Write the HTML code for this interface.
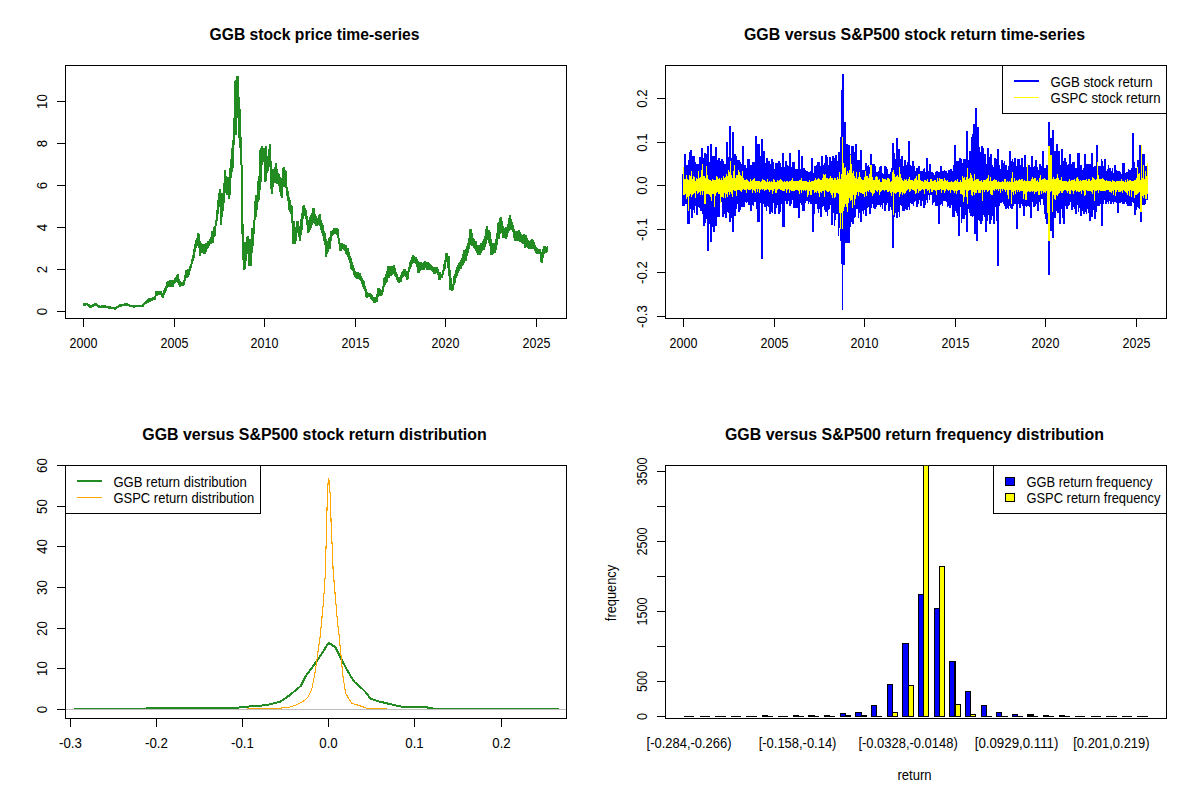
<!DOCTYPE html><html><head><meta charset="utf-8"><style>html,body{margin:0;padding:0;background:#fff;overflow:hidden}svg{display:block}text{font-family:"Liberation Sans",sans-serif;fill:#000}</style></head><body><svg width="1200" height="800" viewBox="0 0 1200 800" font-family="Liberation Sans, sans-serif" shape-rendering="crispEdges"><defs><clipPath id="c1"><rect x="65.3" y="65.3" width="501.2" height="253.5"/></clipPath><clipPath id="c2"><rect x="665.3" y="65.3" width="501.2" height="253.5"/></clipPath><clipPath id="c4"><rect x="665.3" y="465.3" width="501.2" height="253.5"/></clipPath></defs><rect width="1200" height="800" fill="#fff"/><polygon clip-path="url(#c1)" fill="#228B22" points="83,303 84,303 84,303 85,303 85,303 86,303 86,303 87,303 87,303 88,303 88,304 89,304 89,304 90,304 90,305 91,305 91,305 92,305 92,304 93,304 93,304 94,304 94,303 95,303 95,303 96,303 96,303 97,303 97,304 98,304 98,305 99,305 99,305 100,305 100,306 101,306 101,305 102,305 102,305 103,305 103,305 104,305 104,305 105,305 105,305 106,305 106,306 107,306 107,306 108,306 108,306 109,306 109,306 110,306 110,306 111,306 111,307 112,307 112,307 113,307 113,307 114,307 114,307 115,307 115,307 116,307 116,306 117,306 117,306 118,306 118,305 119,305 119,304 120,304 120,304 121,304 121,304 122,304 122,304 123,304 123,304 124,304 124,303 125,303 125,303 126,303 126,303 127,303 127,303 128,303 128,304 129,304 129,304 130,304 130,305 131,305 131,305 132,305 132,305 133,305 133,305 134,305 134,305 135,305 135,305 136,305 136,305 137,305 137,305 138,305 138,305 139,305 139,305 140,305 140,305 141,305 141,305 142,305 142,304 143,304 143,303 144,303 144,302 145,302 145,301 146,301 146,300 147,300 147,299 148,299 148,298 149,298 149,298 150,298 150,298 151,298 151,298 152,298 152,297 153,297 153,297 154,297 154,296 155,296 155,291 156,291 156,291 157,291 157,291 158,291 158,291 159,291 159,291 160,291 160,291 161,291 161,291 162,291 162,293 163,293 163,290 164,290 164,288 165,288 165,286 166,286 166,282 167,282 167,281 168,281 168,281 169,281 169,280 170,280 170,280 171,280 171,280 172,280 172,280 173,280 173,280 174,280 174,278 175,278 175,277 176,277 176,275 177,275 177,274 178,274 178,274 179,274 179,279 180,279 180,281 181,281 181,282 182,282 182,282 183,282 183,280 184,280 184,275 185,275 185,270 186,270 186,270 187,270 187,269 188,269 188,269 189,269 189,266 190,266 190,264 191,264 191,259 192,259 192,255 193,255 193,249 194,249 194,244 195,244 195,240 196,240 196,238 197,238 197,233 198,233 198,233 199,233 199,234 200,234 200,241 201,241 201,243 202,243 202,244 203,244 203,244 204,244 204,244 205,244 205,243 206,243 206,243 207,243 207,241 208,241 208,241 209,241 209,239 210,239 210,237 211,237 211,231 212,231 212,231 213,231 213,227 214,227 214,226 215,226 215,220 216,220 216,210 217,210 217,200 218,200 218,193 219,193 219,189 220,189 220,189 221,189 221,193 222,193 222,193 223,193 223,183 224,183 224,170 225,170 225,170 226,170 226,176 227,176 227,177 228,177 228,177 229,177 229,168 230,168 230,159 231,159 231,148 232,148 232,140 233,140 233,118 234,118 234,81 235,81 235,80 236,80 236,76 237,76 237,76 238,76 238,76 239,76 239,97 240,97 240,109 241,109 241,137 242,137 242,165 243,165 243,224 244,224 244,242 245,242 245,242 246,242 246,237 247,237 247,236 248,236 248,236 249,236 249,239 250,239 250,239 251,239 251,228 252,228 252,228 253,228 253,220 254,220 254,201 255,201 255,195 256,195 256,195 257,195 257,181 258,181 258,176 259,176 259,150 260,150 260,148 261,148 261,146 262,146 262,146 263,146 263,148 264,148 264,148 265,148 265,146 266,146 266,146 267,146 267,156 268,156 268,149 269,149 269,144 270,144 270,144 271,144 271,161 272,161 272,169 273,169 273,169 274,169 274,167 275,167 275,163 276,163 276,163 277,163 277,169 278,169 278,173 279,173 279,174 280,174 280,177 281,177 281,178 282,178 282,168 283,168 283,167 284,167 284,167 285,167 285,170 286,170 286,171 287,171 287,187 288,187 288,191 289,191 289,197 290,197 290,200 291,200 291,205 292,205 292,206 293,206 293,221 294,221 294,221 295,221 295,227 296,227 296,221 297,221 297,221 298,221 298,221 299,221 299,226 300,226 300,219 301,219 301,213 302,213 302,206 303,206 303,205 304,205 304,205 305,205 305,208 306,208 306,210 307,210 307,216 308,216 308,220 309,220 309,217 310,217 310,215 311,215 311,213 312,213 312,208 313,208 313,208 314,208 314,208 315,208 315,214 316,214 316,216 317,216 317,218 318,218 318,215 319,215 319,214 320,214 320,214 321,214 321,220 322,220 322,223 323,223 323,225 324,225 324,231 325,231 325,233 326,233 326,239 327,239 327,241 328,241 328,238 329,238 329,237 330,237 330,231 331,231 331,231 332,231 332,230 333,230 333,228 334,228 334,228 335,228 335,228 336,228 336,228 337,228 337,228 338,228 338,229 339,229 339,238 340,238 340,243 341,243 341,243 342,243 342,243 343,243 343,244 344,244 344,244 345,244 345,245 346,245 346,245 347,245 347,248 348,248 348,248 349,248 349,252 350,252 350,256 351,256 351,258 352,258 352,262 353,262 353,265 354,265 354,268 355,268 355,271 356,271 356,272 357,272 357,272 358,272 358,272 359,272 359,273 360,273 360,273 361,273 361,276 362,276 362,278 363,278 363,280 364,280 364,281 365,281 365,286 366,286 366,289 367,289 367,292 368,292 368,293 369,293 369,293 370,293 370,293 371,293 371,294 372,294 372,295 373,295 373,297 374,297 374,297 375,297 375,297 376,297 376,294 377,294 377,288 378,288 378,288 379,288 379,288 380,288 380,289 381,289 381,290 382,290 382,286 383,286 383,278 384,278 384,277 385,277 385,274 386,274 386,271 387,271 387,266 388,266 388,266 389,266 389,266 390,266 390,266 391,266 391,266 392,266 392,266 393,266 393,265 394,265 394,265 395,265 395,268 396,268 396,272 397,272 397,274 398,274 398,277 399,277 399,277 400,277 400,275 401,275 401,272 402,272 402,271 403,271 403,269 404,269 404,269 405,269 405,269 406,269 406,271 407,271 407,271 408,271 408,267 409,267 409,262 410,262 410,260 411,260 411,257 412,257 412,255 413,255 413,255 414,255 414,256 415,256 415,257 416,257 416,257 417,257 417,259 418,259 418,261 419,261 419,262 420,262 420,262 421,262 421,262 422,262 422,263 423,263 423,262 424,262 424,261 425,261 425,261 426,261 426,262 427,262 427,262 428,262 428,262 429,262 429,263 430,263 430,264 431,264 431,265 432,265 432,266 433,266 433,267 434,267 434,267 435,267 435,267 436,267 436,267 437,267 437,267 438,267 438,269 439,269 439,272 440,272 440,272 441,272 441,274 442,274 442,270 443,270 443,264 444,264 444,260 445,260 445,253 446,253 446,253 447,253 447,253 448,253 448,256 449,256 449,256 450,256 450,270 451,270 451,278 452,278 452,284 453,284 453,276 454,276 454,274 455,274 455,270 456,270 456,267 457,267 457,265 458,265 458,263 459,263 459,262 460,262 460,260 461,260 461,258 462,258 462,254 463,254 463,250 464,250 464,250 465,250 465,249 466,249 466,246 467,246 467,243 468,243 468,238 469,238 469,229 470,229 470,229 471,229 471,229 472,229 472,233 473,233 473,238 474,238 474,239 475,239 475,241 476,241 476,241 477,241 477,245 478,245 478,245 479,245 479,245 480,245 480,243 481,243 481,243 482,243 482,241 483,241 483,239 484,239 484,236 485,236 485,229 486,229 486,226 487,226 487,226 488,226 488,230 489,230 489,230 490,230 490,232 491,232 491,239 492,239 492,243 493,243 493,243 494,243 494,243 495,243 495,239 496,239 496,233 497,233 497,223 498,223 498,222 499,222 499,218 500,218 500,217 501,217 501,217 502,217 502,221 503,221 503,226 504,226 504,228 505,228 505,227 506,227 506,227 507,227 507,224 508,224 508,218 509,218 509,215 510,215 510,215 511,215 511,219 512,219 512,222 513,222 513,225 514,225 514,229 515,229 515,231 516,231 516,231 517,231 517,231 518,231 518,230 519,230 519,230 520,230 520,232 521,232 521,234 522,234 522,235 523,235 523,234 524,234 524,234 525,234 525,235 526,235 526,235 527,235 527,238 528,238 528,240 529,240 529,241 530,241 530,240 531,240 531,239 532,239 532,239 533,239 533,240 534,240 534,242 535,242 535,245 536,245 536,247 537,247 537,248 538,248 538,249 539,249 539,249 540,249 540,249 541,249 541,252 542,252 542,249 543,249 543,246 544,246 544,246 545,246 545,246 546,246 546,247 547,247 547,246 548,246 548,252 547,252 547,253 546,253 546,253 545,253 545,254 544,254 544,258 543,258 543,263 542,263 542,263 541,263 541,262 540,262 540,254 539,254 539,254 538,254 538,254 537,254 537,254 536,254 536,253 535,253 535,251 534,251 534,249 533,249 533,249 532,249 532,249 531,249 531,249 530,249 530,249 529,249 529,249 528,249 528,248 527,248 527,247 526,247 526,248 525,248 525,248 524,248 524,244 523,244 523,244 522,244 522,243 521,243 521,242 520,242 520,242 519,242 519,241 518,241 518,241 517,241 517,241 516,241 516,241 515,241 515,241 514,241 514,238 513,238 513,232 512,232 512,230 511,230 511,230 510,230 510,231 509,231 509,233 508,233 508,237 507,237 507,239 506,239 506,239 505,239 505,238 504,238 504,238 503,238 503,238 502,238 502,233 501,233 501,234 500,234 500,239 499,239 499,239 498,239 498,245 497,245 497,250 496,250 496,253 495,253 495,253 494,253 494,254 493,254 493,255 492,255 492,255 491,255 491,255 490,255 490,246 489,246 489,243 488,243 488,240 487,240 487,244 486,244 486,247 485,247 485,250 484,250 484,250 483,250 483,251 482,251 482,253 481,253 481,255 480,255 480,255 479,255 479,255 478,255 478,255 477,255 477,253 476,253 476,251 475,251 475,249 474,249 474,248 473,248 473,246 472,246 472,246 471,246 471,245 470,245 470,249 469,249 469,253 468,253 468,256 467,256 467,261 466,261 466,261 465,261 465,263 464,263 464,265 463,265 463,266 462,266 462,269 461,269 461,269 460,269 460,271 459,271 459,273 458,273 458,276 457,276 457,278 456,278 456,283 455,283 455,285 454,285 454,290 453,290 453,291 452,291 452,291 451,291 451,290 450,290 450,290 449,290 449,276 448,276 448,268 447,268 447,262 446,262 446,269 445,269 445,271 444,271 444,275 443,275 443,278 442,278 442,278 441,278 441,280 440,280 440,280 439,280 439,280 438,280 438,275 437,275 437,273 436,273 436,274 435,274 435,274 434,274 434,274 433,274 433,272 432,272 432,271 431,271 431,270 430,270 430,270 429,270 429,270 428,270 428,270 427,270 427,270 426,270 426,268 425,268 425,270 424,270 424,270 423,270 423,270 422,270 422,270 421,270 421,271 420,271 420,273 419,273 419,273 418,273 418,273 417,273 417,267 416,267 416,264 415,264 415,263 414,263 414,263 413,263 413,264 412,264 412,267 411,267 411,269 410,269 410,272 409,272 409,279 408,279 408,280 407,280 407,280 406,280 406,277 405,277 405,276 404,276 404,277 403,277 403,278 402,278 402,282 401,282 401,282 400,282 400,283 399,283 399,283 398,283 398,282 397,282 397,280 396,280 396,277 395,277 395,276 394,276 394,274 393,274 393,275 392,275 392,276 391,276 391,276 390,276 390,278 389,278 389,278 388,278 388,282 387,282 387,283 386,283 386,285 385,285 385,287 384,287 384,292 383,292 383,295 382,295 382,296 381,296 381,296 380,296 380,296 379,296 379,297 378,297 378,302 377,302 377,302 376,302 376,303 375,303 375,303 374,303 374,303 373,303 373,301 372,301 372,300 371,300 371,299 370,299 370,297 369,297 369,297 368,297 368,298 367,298 367,298 366,298 366,297 365,297 365,291 364,291 364,289 363,289 363,287 362,287 362,284 361,284 361,281 360,281 360,280 359,280 359,279 358,279 358,279 357,279 357,279 356,279 356,278 355,278 355,277 354,277 354,275 353,275 353,271 352,271 352,270 351,270 351,269 350,269 350,263 349,263 349,260 348,260 348,257 347,257 347,255 346,255 346,254 345,254 345,251 344,251 344,250 343,250 343,249 342,249 342,251 341,251 341,251 340,251 340,251 339,251 339,244 338,244 338,238 337,238 337,235 336,235 336,234 335,234 335,234 334,234 334,235 333,235 333,236 332,236 332,241 331,241 331,249 330,249 330,249 329,249 329,252 328,252 328,254 327,254 327,257 326,257 326,257 325,257 325,245 324,245 324,241 323,241 323,236 322,236 322,233 321,233 321,230 320,230 320,226 319,226 319,225 318,225 318,226 317,226 317,226 316,226 316,226 315,226 315,224 314,224 314,223 313,223 313,225 312,225 312,228 311,228 311,230 310,230 310,232 309,232 309,233 308,233 308,233 307,233 307,225 306,225 306,219 305,219 305,216 304,216 304,219 303,219 303,230 302,230 302,235 301,235 301,241 300,241 300,241 299,241 299,237 298,237 298,233 297,233 297,241 296,241 296,244 295,244 295,244 294,244 294,244 293,244 293,244 292,244 292,223 291,223 291,214 290,214 290,212 289,212 289,210 288,210 288,201 287,201 287,196 286,196 286,188 285,188 285,187 284,187 284,187 283,187 283,198 282,198 282,198 281,198 281,196 280,196 280,192 279,192 279,186 278,186 278,184 277,184 277,184 276,184 276,183 275,183 275,183 274,183 274,187 273,187 273,194 272,194 272,194 271,194 271,189 270,189 270,167 269,167 269,171 268,171 268,173 267,173 267,181 266,181 266,182 265,182 265,182 264,182 264,162 263,162 263,165 262,165 262,182 261,182 261,190 260,190 260,200 259,200 259,202 258,202 258,210 257,210 257,217 256,217 256,220 255,220 255,234 254,234 254,246 253,246 253,253 252,253 252,266 251,266 251,266 250,266 250,266 249,266 249,266 248,266 248,254 247,254 247,261 246,261 246,269 245,269 245,270 244,270 244,270 243,270 243,260 242,260 242,234 241,234 241,165 240,165 240,148 239,148 239,138 238,138 238,118 237,118 237,135 236,135 236,135 235,135 235,145 234,145 234,168 233,168 233,172 232,172 232,178 231,178 231,195 230,195 230,199 229,199 229,199 228,199 228,195 227,195 227,195 226,195 226,193 225,193 225,203 224,203 224,211 223,211 223,217 222,217 222,225 221,225 221,225 220,225 220,207 219,207 219,214 218,214 218,221 217,221 217,226 216,226 216,236 215,236 215,237 214,237 214,243 213,243 213,243 212,243 212,244 211,244 211,244 210,244 210,246 209,246 209,248 208,248 208,249 207,249 207,252 206,252 206,254 205,254 205,254 204,254 204,254 203,254 203,253 202,253 202,253 201,253 201,256 200,256 200,256 199,256 199,248 198,248 198,246 197,246 197,248 196,248 196,252 195,252 195,258 194,258 194,261 193,261 193,264 192,264 192,268 191,268 191,271 190,271 190,275 189,275 189,277 188,277 188,278 187,278 187,278 186,278 186,281 185,281 185,285 184,285 184,286 183,286 183,286 182,286 182,286 181,286 181,287 180,287 180,287 179,287 179,285 178,285 178,283 177,283 177,282 176,282 176,283 175,283 175,284 174,284 174,287 173,287 173,287 172,287 172,287 171,287 171,287 170,287 170,287 169,287 169,287 168,287 168,288 167,288 167,291 166,291 166,293 165,293 165,295 164,295 164,298 163,298 163,298 162,298 162,297 161,297 161,295 160,295 160,295 159,295 159,295 158,295 158,296 157,296 157,296 156,296 156,300 155,300 155,300 154,300 154,300 153,300 153,301 152,301 152,301 151,301 151,302 150,302 150,302 149,302 149,303 148,303 148,303 147,303 147,304 146,304 146,304 145,304 145,305 144,305 144,307 143,307 143,307 142,307 142,307 141,307 141,307 140,307 140,307 139,307 139,307 138,307 138,307 137,307 137,307 136,307 136,307 135,307 135,308 134,308 134,308 133,308 133,307 132,307 132,307 131,307 131,307 130,307 130,307 129,307 129,306 128,306 128,306 127,306 127,306 126,306 126,306 125,306 125,306 124,306 124,306 123,306 123,306 122,306 122,307 121,307 121,307 120,307 120,307 119,307 119,308 118,308 118,308 117,308 117,309 116,309 116,310 115,310 115,310 114,310 114,309 113,309 113,309 112,309 112,309 111,309 111,309 110,309 110,309 109,309 109,309 108,309 108,308 107,308 107,308 106,308 106,308 105,308 105,308 104,308 104,308 103,308 103,308 102,308 102,308 101,308 101,308 100,308 100,308 99,308 99,308 98,308 98,307 97,307 97,306 96,306 96,306 95,306 95,306 94,306 94,307 93,307 93,307 92,307 92,308 91,308 91,308 90,308 90,308 89,308 89,307 88,307 88,306 87,306 87,305 86,305 86,306 85,306 85,306 84,306 84,306 83,306"/><polygon clip-path="url(#c2)" fill="#0000FF" points="682,174 683,174 683,167 684,167 684,154 685,154 685,154 686,154 686,165 687,165 687,165 688,165 688,160 689,160 689,152 690,152 690,150 691,150 691,150 692,150 692,156 693,156 693,156 694,156 694,156 695,156 695,162 696,162 696,164 697,164 697,164 698,164 698,164 699,164 699,157 700,157 700,157 701,157 701,148 702,148 702,148 703,148 703,158 704,158 704,153 705,153 705,153 706,153 706,154 707,154 707,146 708,146 708,146 709,146 709,162 710,162 710,144 711,144 711,144 712,144 712,156 713,156 713,156 714,156 714,156 715,156 715,147 716,147 716,147 717,147 717,160 718,160 718,158 719,158 719,158 720,158 720,161 721,161 721,159 722,159 722,159 723,159 723,161 724,161 724,164 725,164 725,164 726,164 726,142 727,142 727,142 728,142 728,157 729,157 729,126 730,126 730,126 731,126 731,158 732,158 732,132 733,132 733,132 734,132 734,154 735,154 735,154 736,154 736,156 737,156 737,160 738,160 738,160 739,160 739,160 740,160 740,162 741,162 741,164 742,164 742,146 743,146 743,146 744,146 744,165 745,165 745,165 746,165 746,168 747,168 747,159 748,159 748,159 749,159 749,159 750,159 750,165 751,165 751,165 752,165 752,162 753,162 753,162 754,162 754,162 755,162 755,136 756,136 756,136 757,136 757,144 758,144 758,144 759,144 759,144 760,144 760,156 761,156 761,139 762,139 762,139 763,139 763,151 764,151 764,151 765,151 765,163 766,163 766,158 767,158 767,158 768,158 768,161 769,161 769,161 770,161 770,164 771,164 771,159 772,159 772,159 773,159 773,162 774,162 774,169 775,169 775,163 776,163 776,163 777,163 777,163 778,163 778,161 779,161 779,161 780,161 780,163 781,163 781,167 782,167 782,153 783,153 783,153 784,153 784,167 785,167 785,161 786,161 786,161 787,161 787,165 788,165 788,166 789,166 789,153 790,153 790,153 791,153 791,167 792,167 792,162 793,162 793,162 794,162 794,162 795,162 795,169 796,169 796,169 797,169 797,169 798,169 798,150 799,150 799,150 800,150 800,169 801,169 801,156 802,156 802,156 803,156 803,168 804,168 804,168 805,168 805,170 806,170 806,171 807,171 807,171 808,171 808,172 809,172 809,172 810,172 810,171 811,171 811,158 812,158 812,158 813,158 813,173 814,173 814,166 815,166 815,166 816,166 816,165 817,165 817,162 818,162 818,162 819,162 819,162 820,162 820,166 821,166 821,156 822,156 822,156 823,156 823,165 824,165 824,163 825,163 825,155 826,155 826,155 827,155 827,157 828,157 828,165 829,165 829,157 830,157 830,157 831,157 831,161 832,161 832,156 833,156 833,156 834,156 834,158 835,158 835,155 836,155 836,155 837,155 837,161 838,161 838,152 839,152 839,152 840,152 840,137 841,137 841,90 842,90 842,74 843,74 843,74 844,74 844,122 845,122 845,122 846,122 846,144 847,144 847,144 848,144 848,145 849,145 849,145 850,145 850,154 851,154 851,146 852,146 852,146 853,146 853,146 854,146 854,152 855,152 855,144 856,144 856,144 857,144 857,160 858,160 858,160 859,160 859,160 860,160 860,150 861,150 861,150 862,150 862,170 863,170 863,170 864,170 864,170 865,170 865,163 866,163 866,163 867,163 867,166 868,166 868,165 869,165 869,167 870,167 870,154 871,154 871,154 872,154 872,164 873,164 873,164 874,164 874,164 875,164 875,166 876,166 876,172 877,172 877,172 878,172 878,171 879,171 879,167 880,167 880,166 881,166 881,166 882,166 882,173 883,173 883,174 884,174 884,166 885,166 885,166 886,166 886,167 887,167 887,169 888,169 888,174 889,174 889,174 890,174 890,172 891,172 891,168 892,168 892,143 893,143 893,143 894,143 894,153 895,153 895,159 896,159 896,138 897,138 897,138 898,138 898,149 899,149 899,149 900,149 900,159 901,159 901,156 902,156 902,156 903,156 903,166 904,166 904,160 905,160 905,160 906,160 906,165 907,165 907,162 908,162 908,141 909,141 909,141 910,141 910,165 911,165 911,166 912,166 912,161 913,161 913,161 914,161 914,166 915,166 915,171 916,171 916,168 917,168 917,168 918,168 918,166 919,166 919,166 920,166 920,171 921,171 921,171 922,171 922,171 923,171 923,169 924,169 924,168 925,168 925,172 926,172 926,158 927,158 927,158 928,158 928,171 929,171 929,164 930,164 930,164 931,164 931,172 932,172 932,172 933,172 933,173 934,173 934,175 935,175 935,172 936,172 936,171 937,171 937,171 938,171 938,172 939,172 939,172 940,172 940,166 941,166 941,166 942,166 942,171 943,171 943,171 944,171 944,170 945,170 945,171 946,171 946,171 947,171 947,173 948,173 948,170 949,170 949,170 950,170 950,169 951,169 951,169 952,169 952,171 953,171 953,165 954,165 954,145 955,145 955,145 956,145 956,161 957,161 957,161 958,161 958,161 959,161 959,158 960,158 960,158 961,158 961,159 962,159 962,163 963,163 963,159 964,159 964,159 965,159 965,159 966,159 966,131 967,131 967,131 968,131 968,160 969,160 969,151 970,151 970,151 971,151 971,137 972,137 972,134 973,134 973,124 974,124 974,124 975,124 975,108 976,108 976,108 977,108 977,127 978,127 978,127 979,127 979,147 980,147 980,152 981,152 981,146 982,146 982,146 983,146 983,148 984,148 984,154 985,154 985,154 986,154 986,164 987,164 987,148 988,148 988,148 989,148 989,157 990,157 990,154 991,154 991,154 992,154 992,165 993,165 993,167 994,167 994,158 995,158 995,158 996,158 996,159 997,159 997,149 998,149 998,149 999,149 999,165 1000,165 1000,169 1001,169 1001,160 1002,160 1002,160 1003,160 1003,163 1004,163 1004,161 1005,161 1005,165 1006,165 1006,165 1007,165 1007,170 1008,170 1008,166 1009,166 1009,151 1010,151 1010,151 1011,151 1011,161 1012,161 1012,159 1013,159 1013,162 1014,162 1014,158 1015,158 1015,158 1016,158 1016,166 1017,166 1017,159 1018,159 1018,159 1019,159 1019,159 1020,159 1020,165 1021,165 1021,158 1022,158 1022,158 1023,158 1023,167 1024,167 1024,155 1025,155 1025,155 1026,155 1026,167 1027,167 1027,165 1028,165 1028,165 1029,165 1029,165 1030,165 1030,167 1031,167 1031,156 1032,156 1032,156 1033,156 1033,167 1034,167 1034,166 1035,166 1035,160 1036,160 1036,160 1037,160 1037,167 1038,167 1038,170 1039,170 1039,164 1040,164 1040,164 1041,164 1041,166 1042,166 1042,151 1043,151 1043,151 1044,151 1044,168 1045,168 1045,168 1046,168 1046,165 1047,165 1047,165 1048,165 1048,122 1049,122 1049,122 1050,122 1050,138 1051,138 1051,138 1052,138 1052,130 1053,130 1053,130 1054,130 1054,151 1055,151 1055,151 1056,151 1056,144 1057,144 1057,144 1058,144 1058,151 1059,151 1059,151 1060,151 1060,165 1061,165 1061,149 1062,149 1062,149 1063,149 1063,161 1064,161 1064,158 1065,158 1065,158 1066,158 1066,162 1067,162 1067,165 1068,165 1068,164 1069,164 1069,154 1070,154 1070,154 1071,154 1071,164 1072,164 1072,162 1073,162 1073,162 1074,162 1074,162 1075,162 1075,168 1076,168 1076,168 1077,168 1077,153 1078,153 1078,153 1079,153 1079,153 1080,153 1080,165 1081,165 1081,165 1082,165 1082,170 1083,170 1083,168 1084,168 1084,154 1085,154 1085,154 1086,154 1086,164 1087,164 1087,164 1088,164 1088,164 1089,164 1089,164 1090,164 1090,164 1091,164 1091,153 1092,153 1092,153 1093,153 1093,167 1094,167 1094,166 1095,166 1095,166 1096,166 1096,145 1097,145 1097,145 1098,145 1098,166 1099,166 1099,166 1100,166 1100,166 1101,166 1101,159 1102,159 1102,161 1103,161 1103,166 1104,166 1104,159 1105,159 1105,159 1106,159 1106,171 1107,171 1107,169 1108,169 1108,165 1109,165 1109,168 1110,168 1110,168 1111,168 1111,171 1112,171 1112,168 1113,168 1113,173 1114,173 1114,165 1115,165 1115,165 1116,165 1116,170 1117,170 1117,171 1118,171 1118,171 1119,171 1119,171 1120,171 1120,172 1121,172 1121,174 1122,174 1122,163 1123,163 1123,163 1124,163 1124,163 1125,163 1125,173 1126,173 1126,172 1127,172 1127,172 1128,172 1128,169 1129,169 1129,170 1130,170 1130,170 1131,170 1131,168 1132,168 1132,133 1133,133 1133,133 1134,133 1134,162 1135,162 1135,168 1136,168 1136,168 1137,168 1137,160 1138,160 1138,160 1139,160 1139,145 1140,145 1140,145 1141,145 1141,169 1142,169 1142,154 1143,154 1143,154 1144,154 1144,154 1145,154 1145,166 1146,166 1146,166 1147,166 1147,172 1148,172 1148,200 1147,200 1147,200 1146,200 1146,204 1145,204 1145,205 1144,205 1144,205 1143,205 1143,205 1142,205 1142,222 1141,222 1141,222 1140,222 1140,209 1139,209 1139,208 1138,208 1138,207 1137,207 1137,210 1136,210 1136,215 1135,215 1135,215 1134,215 1134,203 1133,203 1133,202 1132,202 1132,206 1131,206 1131,206 1130,206 1130,206 1129,206 1129,206 1128,206 1128,206 1127,206 1127,204 1126,204 1126,202 1125,202 1125,204 1124,204 1124,204 1123,204 1123,204 1122,204 1122,202 1121,202 1121,203 1120,203 1120,203 1119,203 1119,213 1118,213 1118,213 1117,213 1117,203 1116,203 1116,202 1115,202 1115,202 1114,202 1114,204 1113,204 1113,202 1112,202 1112,204 1111,204 1111,204 1110,204 1110,201 1109,201 1109,204 1108,204 1108,202 1107,202 1107,204 1106,204 1106,204 1105,204 1105,200 1104,200 1104,204 1103,204 1103,226 1102,226 1102,226 1101,226 1101,204 1100,204 1100,206 1099,206 1099,206 1098,206 1098,206 1097,206 1097,212 1096,212 1096,219 1095,219 1095,219 1094,219 1094,210 1093,210 1093,217 1092,217 1092,217 1091,217 1091,221 1090,221 1090,221 1089,221 1089,213 1088,213 1088,209 1087,209 1087,214 1086,214 1086,212 1085,212 1085,214 1084,214 1084,214 1083,214 1083,211 1082,211 1082,216 1081,216 1081,216 1080,216 1080,208 1079,208 1079,212 1078,212 1078,205 1077,205 1077,214 1076,214 1076,214 1075,214 1075,209 1074,209 1074,207 1073,207 1073,210 1072,210 1072,210 1071,210 1071,202 1070,202 1070,205 1069,205 1069,206 1068,206 1068,209 1067,209 1067,209 1066,209 1066,206 1065,206 1065,224 1064,224 1064,224 1063,224 1063,218 1062,218 1062,209 1061,209 1061,224 1060,224 1060,224 1059,224 1059,213 1058,213 1058,213 1057,213 1057,211 1056,211 1056,218 1055,218 1055,218 1054,218 1054,238 1053,238 1053,238 1052,238 1052,231 1051,231 1051,231 1050,231 1050,275 1049,275 1049,275 1048,275 1048,224 1047,224 1047,224 1046,224 1046,219 1045,219 1045,214 1044,214 1044,205 1043,205 1043,199 1042,199 1042,199 1041,199 1041,205 1040,205 1040,202 1039,202 1039,211 1038,211 1038,211 1037,211 1037,204 1036,204 1036,206 1035,206 1035,207 1034,207 1034,207 1033,207 1033,202 1032,202 1032,218 1031,218 1031,218 1030,218 1030,207 1029,207 1029,206 1028,206 1028,206 1027,206 1027,207 1026,207 1026,206 1025,206 1025,216 1024,216 1024,216 1023,216 1023,206 1022,206 1022,204 1021,204 1021,208 1020,208 1020,208 1019,208 1019,204 1018,204 1018,229 1017,229 1017,229 1016,229 1016,204 1015,204 1015,204 1014,204 1014,206 1013,206 1013,209 1012,209 1012,209 1011,209 1011,208 1010,208 1010,206 1009,206 1009,209 1008,209 1008,208 1007,208 1007,209 1006,209 1006,209 1005,209 1005,206 1004,206 1004,204 1003,204 1003,202 1002,202 1002,203 1001,203 1001,203 1000,203 1000,206 999,206 999,266 998,266 998,266 997,266 997,221 996,221 996,207 995,207 995,224 994,224 994,224 993,224 993,216 992,216 992,220 991,220 991,224 990,224 990,224 989,224 989,215 988,215 988,221 987,221 987,232 986,232 986,232 985,232 985,217 984,217 984,215 983,215 983,221 982,221 982,224 981,224 981,224 980,224 980,221 979,221 979,220 978,220 978,241 977,241 977,241 976,241 976,234 975,234 975,234 974,234 974,216 973,216 973,217 972,217 972,216 971,216 971,216 970,216 970,213 969,213 969,209 968,209 968,232 967,232 967,232 966,232 966,215 965,215 965,219 964,219 964,219 963,219 963,219 962,219 962,223 961,223 961,207 960,207 960,236 959,236 959,236 958,236 958,216 957,216 957,213 956,213 956,211 955,211 955,217 954,217 954,217 953,217 953,217 952,217 952,205 951,205 951,208 950,208 950,208 949,208 949,206 948,206 948,207 947,207 947,202 946,202 946,201 945,201 945,201 944,201 944,201 943,201 943,206 942,206 942,204 941,204 941,205 940,205 940,224 939,224 939,224 938,224 938,206 937,206 937,206 936,206 936,206 935,206 935,202 934,202 934,203 933,203 933,205 932,205 932,195 931,195 931,195 930,195 930,200 929,200 929,195 928,195 928,203 927,203 927,200 926,200 926,205 925,205 925,208 924,208 924,208 923,208 923,201 922,201 922,206 921,206 921,206 920,206 920,200 919,200 919,204 918,204 918,207 917,207 917,207 916,207 916,201 915,201 915,202 914,202 914,206 913,206 913,204 912,204 912,204 911,204 911,203 910,203 910,210 909,210 909,207 908,207 908,210 907,210 907,210 906,210 906,209 905,209 905,211 904,211 904,211 903,211 903,211 902,211 902,206 901,206 901,205 900,205 900,217 899,217 899,212 898,212 898,218 897,218 897,218 896,218 896,213 895,213 895,217 894,217 894,248 893,248 893,248 892,248 892,210 891,210 891,207 890,207 890,211 889,211 889,211 888,211 888,203 887,203 887,205 886,205 886,211 885,211 885,211 884,211 884,203 883,203 883,209 882,209 882,205 881,205 881,207 880,207 880,205 879,205 879,205 878,205 878,205 877,205 877,207 876,207 876,209 875,209 875,209 874,209 874,208 873,208 873,204 872,204 872,208 871,208 871,214 870,214 870,214 869,214 869,207 868,207 868,208 867,208 867,216 866,216 866,216 865,216 865,210 864,210 864,214 863,214 863,211 862,211 862,222 861,222 861,222 860,222 860,213 859,213 859,218 858,218 858,209 857,209 857,209 856,209 856,217 855,217 855,218 854,218 854,224 853,224 853,224 852,224 852,222 851,222 851,227 850,227 850,243 849,243 849,243 848,243 848,243 847,243 847,243 846,243 846,243 845,243 845,265 844,265 844,265 843,265 843,310 842,310 842,264 841,264 841,241 840,241 840,228 839,228 839,236 838,236 838,214 837,214 837,214 836,214 836,220 835,220 835,226 834,226 834,213 833,213 833,225 832,225 832,225 831,225 831,205 830,205 830,209 829,209 829,210 828,210 828,216 827,216 827,212 826,212 826,212 825,212 825,210 824,210 824,206 823,206 823,207 822,207 822,217 821,217 821,217 820,217 820,209 819,209 819,213 818,213 818,209 817,209 817,204 816,204 816,204 815,204 815,214 814,214 814,232 813,232 813,232 812,232 812,204 811,204 811,204 810,204 810,202 809,202 809,204 808,204 808,201 807,201 807,201 806,201 806,203 805,203 805,211 804,211 804,211 803,211 803,211 802,211 802,205 801,205 801,203 800,203 800,218 799,218 799,218 798,218 798,208 797,208 797,208 796,208 796,208 795,208 795,208 794,208 794,208 793,208 793,200 792,200 792,204 791,204 791,206 790,206 790,206 789,206 789,201 788,201 788,204 787,204 787,204 786,204 786,201 785,201 785,227 784,227 784,227 783,227 783,227 782,227 782,204 781,204 781,212 780,212 780,214 779,214 779,214 778,214 778,205 777,205 777,208 776,208 776,214 775,214 775,214 774,214 774,203 773,203 773,213 772,213 772,212 771,212 771,214 770,214 770,214 769,214 769,207 768,207 768,206 767,206 767,211 766,211 766,207 765,207 765,207 764,207 764,204 763,204 763,259 762,259 762,259 761,259 761,203 760,203 760,222 759,222 759,222 758,222 758,222 757,222 757,209 756,209 756,202 755,202 755,202 754,202 754,206 753,206 753,205 752,205 752,211 751,211 751,211 750,211 750,205 749,205 749,205 748,205 748,202 747,202 747,203 746,203 746,202 745,202 745,207 744,207 744,207 743,207 743,207 742,207 742,207 741,207 741,210 740,210 740,212 739,212 739,212 738,212 738,204 737,204 737,209 736,209 736,216 735,216 735,216 734,216 734,232 733,232 733,232 732,232 732,218 731,218 731,222 730,222 730,222 729,222 729,213 728,213 728,212 727,212 727,218 726,218 726,218 725,218 725,214 724,214 724,217 723,217 723,217 722,217 722,202 721,202 721,202 720,202 720,217 719,217 719,217 718,217 718,217 717,217 717,226 716,226 716,226 715,226 715,232 714,232 714,232 713,232 713,227 712,227 712,242 711,242 711,242 710,242 710,224 709,224 709,251 708,251 708,251 707,251 707,219 706,219 706,223 705,223 705,226 704,226 704,226 703,226 703,214 702,214 702,211 701,211 701,211 700,211 700,208 699,208 699,207 698,207 698,215 697,215 697,215 696,215 696,206 695,206 695,213 694,213 694,210 693,210 693,218 692,218 692,218 691,218 691,209 690,209 690,224 689,224 689,224 688,224 688,224 687,224 687,204 686,204 686,204 685,204 685,206 684,206 684,206 683,206 683,206 682,206"/><polygon clip-path="url(#c2)" fill="#FFFF00" points="683,167 684,167 684,179 685,179 685,179 686,179 686,175 687,175 687,179 688,179 688,180 689,180 689,175 690,175 690,176 691,176 691,171 692,171 692,179 693,179 693,176 694,176 694,177 695,177 695,181 696,181 696,178 697,178 697,179 698,179 698,171 699,171 699,178 700,178 700,177 701,177 701,170 702,170 702,164 703,164 703,176 704,176 704,176 705,176 705,178 706,178 706,166 707,166 707,175 708,175 708,179 709,179 709,180 710,180 710,180 711,180 711,181 712,181 712,179 713,179 713,180 714,180 714,180 715,180 715,180 716,180 716,176 717,176 717,177 718,177 718,179 719,179 719,178 720,178 720,180 721,180 721,178 722,178 722,180 723,180 723,176 724,176 724,178 725,178 725,177 726,177 726,174 727,174 727,176 728,176 728,170 729,170 729,172 730,172 730,161 731,161 731,175 732,175 732,178 733,178 733,171 734,171 734,165 735,165 735,178 736,178 736,175 737,175 737,175 738,175 738,170 739,170 739,172 740,172 740,175 741,175 741,176 742,176 742,171 743,171 743,178 744,178 744,180 745,180 745,180 746,180 746,179 747,179 747,180 748,180 748,181 749,181 749,182 750,182 750,179 751,179 751,181 752,181 752,180 753,180 753,179 754,179 754,178 755,178 755,181 756,181 756,181 757,181 757,181 758,181 758,181 759,181 759,181 760,181 760,182 761,182 761,181 762,181 762,179 763,179 763,180 764,180 764,180 765,180 765,181 766,181 766,182 767,182 767,179 768,179 768,182 769,182 769,181 770,181 770,182 771,182 771,181 772,181 772,182 773,182 773,179 774,179 774,180 775,180 775,182 776,182 776,182 777,182 777,180 778,180 778,181 779,181 779,180 780,180 780,179 781,179 781,180 782,180 782,181 783,181 783,182 784,182 784,181 785,181 785,182 786,182 786,181 787,181 787,181 788,181 788,182 789,182 789,181 790,181 790,181 791,181 791,180 792,180 792,178 793,178 793,181 794,181 794,181 795,181 795,181 796,181 796,181 797,181 797,181 798,181 798,181 799,181 799,180 800,180 800,180 801,180 801,178 802,178 802,181 803,181 803,181 804,181 804,181 805,181 805,181 806,181 806,181 807,181 807,182 808,182 808,182 809,182 809,180 810,180 810,182 811,182 811,181 812,181 812,181 813,181 813,181 814,181 814,180 815,180 815,178 816,178 816,180 817,180 817,179 818,179 818,178 819,178 819,179 820,179 820,180 821,180 821,180 822,180 822,178 823,178 823,174 824,174 824,175 825,175 825,174 826,174 826,178 827,178 827,178 828,178 828,179 829,179 829,178 830,178 830,176 831,176 831,178 832,178 832,178 833,178 833,180 834,180 834,178 835,178 835,178 836,178 836,180 837,180 837,177 838,177 838,179 839,179 839,172 840,172 840,179 841,179 841,174 842,174 842,137 843,137 843,163 844,163 844,168 845,168 845,167 846,167 846,175 847,175 847,171 848,171 848,173 849,173 849,170 850,170 850,155 851,155 851,164 852,164 852,173 853,173 853,171 854,171 854,176 855,176 855,178 856,178 856,172 857,172 857,179 858,179 858,177 859,177 859,172 860,172 860,177 861,177 861,179 862,179 862,180 863,180 863,180 864,180 864,177 865,177 865,171 866,171 866,176 867,176 867,176 868,176 868,178 869,178 869,174 870,174 870,165 871,165 871,165 872,165 872,177 873,177 873,180 874,180 874,180 875,180 875,177 876,177 876,176 877,176 877,177 878,177 878,180 879,180 879,179 880,179 880,182 881,182 881,182 882,182 882,178 883,178 883,179 884,179 884,179 885,179 885,179 886,179 886,180 887,180 887,178 888,178 888,178 889,178 889,179 890,179 890,182 891,182 891,181 892,181 892,172 893,172 893,170 894,170 894,174 895,174 895,177 896,177 896,176 897,176 897,175 898,175 898,177 899,177 899,167 900,167 900,174 901,174 901,178 902,178 902,180 903,180 903,181 904,181 904,179 905,179 905,180 906,180 906,179 907,179 907,181 908,181 908,179 909,179 909,177 910,177 910,180 911,180 911,180 912,180 912,180 913,180 913,181 914,181 914,179 915,179 915,178 916,178 916,176 917,176 917,180 918,180 918,174 919,174 919,174 920,174 920,180 921,180 921,181 922,181 922,181 923,181 923,182 924,182 924,180 925,180 925,180 926,180 926,181 927,181 927,179 928,179 928,182 929,182 929,182 930,182 930,179 931,179 931,179 932,179 932,181 933,181 933,181 934,181 934,180 935,180 935,180 936,180 936,182 937,182 937,178 938,178 938,181 939,181 939,178 940,178 940,179 941,179 941,179 942,179 942,179 943,179 943,181 944,181 944,178 945,178 945,180 946,180 946,181 947,181 947,180 948,180 948,182 949,182 949,182 950,182 950,182 951,182 951,181 952,181 952,182 953,182 953,182 954,182 954,181 955,181 955,180 956,180 956,181 957,181 957,179 958,179 958,182 959,182 959,182 960,182 960,180 961,180 961,182 962,182 962,176 963,176 963,178 964,178 964,177 965,177 965,180 966,180 966,177 967,177 967,168 968,168 968,179 969,179 969,178 970,178 970,173 971,173 971,175 972,175 972,178 973,178 973,181 974,181 974,174 975,174 975,180 976,180 976,179 977,179 977,179 978,179 978,179 979,179 979,181 980,181 980,181 981,181 981,180 982,180 982,182 983,182 983,180 984,180 984,180 985,180 985,180 986,180 986,179 987,179 987,178 988,178 988,175 989,175 989,181 990,181 990,177 991,177 991,181 992,181 992,181 993,181 993,180 994,180 994,179 995,179 995,180 996,180 996,180 997,180 997,182 998,182 998,181 999,181 999,182 1000,182 1000,182 1001,182 1001,182 1002,182 1002,181 1003,181 1003,182 1004,182 1004,179 1005,179 1005,179 1006,179 1006,182 1007,182 1007,181 1008,181 1008,182 1009,182 1009,181 1010,181 1010,182 1011,182 1011,178 1012,178 1012,172 1013,172 1013,182 1014,182 1014,178 1015,178 1015,181 1016,181 1016,180 1017,180 1017,181 1018,181 1018,180 1019,180 1019,179 1020,179 1020,180 1021,180 1021,179 1022,179 1022,179 1023,179 1023,181 1024,181 1024,180 1025,180 1025,181 1026,181 1026,181 1027,181 1027,164 1028,164 1028,181 1029,181 1029,181 1030,181 1030,181 1031,181 1031,179 1032,179 1032,177 1033,177 1033,179 1034,179 1034,178 1035,178 1035,178 1036,178 1036,181 1037,181 1037,180 1038,180 1038,182 1039,182 1039,178 1040,178 1040,175 1041,175 1041,180 1042,180 1042,179 1043,179 1043,179 1044,179 1044,178 1045,178 1045,179 1046,179 1046,180 1047,180 1047,180 1048,180 1048,146 1049,146 1049,146 1050,146 1050,155 1051,155 1051,155 1052,155 1052,179 1053,179 1053,177 1054,177 1054,179 1055,179 1055,179 1056,179 1056,178 1057,178 1057,174 1058,174 1058,178 1059,178 1059,180 1060,180 1060,180 1061,180 1061,177 1062,177 1062,181 1063,181 1063,181 1064,181 1064,181 1065,181 1065,181 1066,181 1066,181 1067,181 1067,182 1068,182 1068,181 1069,181 1069,179 1070,179 1070,181 1071,181 1071,180 1072,180 1072,180 1073,180 1073,180 1074,180 1074,179 1075,179 1075,181 1076,181 1076,178 1077,178 1077,177 1078,177 1078,179 1079,179 1079,181 1080,181 1080,180 1081,180 1081,181 1082,181 1082,180 1083,180 1083,180 1084,180 1084,180 1085,180 1085,180 1086,180 1086,179 1087,179 1087,181 1088,181 1088,179 1089,179 1089,179 1090,179 1090,181 1091,181 1091,180 1092,180 1092,177 1093,177 1093,178 1094,178 1094,179 1095,179 1095,180 1096,180 1096,179 1097,179 1097,162 1098,162 1098,175 1099,175 1099,179 1100,179 1100,179 1101,179 1101,179 1102,179 1102,178 1103,178 1103,179 1104,179 1104,180 1105,180 1105,181 1106,181 1106,180 1107,180 1107,181 1108,181 1108,181 1109,181 1109,181 1110,181 1110,181 1111,181 1111,182 1112,182 1112,180 1113,180 1113,181 1114,181 1114,181 1115,181 1115,182 1116,182 1116,181 1117,181 1117,181 1118,181 1118,181 1119,181 1119,181 1120,181 1120,181 1121,181 1121,179 1122,179 1122,181 1123,181 1123,181 1124,181 1124,182 1125,182 1125,180 1126,180 1126,182 1127,182 1127,179 1128,179 1128,181 1129,181 1129,180 1130,180 1130,180 1131,180 1131,181 1132,181 1132,181 1133,181 1133,181 1134,181 1134,180 1135,180 1135,180 1136,180 1136,178 1137,178 1137,167 1138,167 1138,174 1139,174 1139,173 1140,173 1140,180 1141,180 1141,145 1142,145 1142,178 1143,178 1143,165 1144,165 1144,179 1145,179 1145,171 1146,171 1146,176 1147,176 1147,163 1148,163 1148,194 1147,194 1147,199 1146,199 1146,199 1145,199 1145,195 1144,195 1144,198 1143,198 1143,196 1142,196 1142,212 1141,212 1141,212 1140,212 1140,192 1139,192 1139,193 1138,193 1138,194 1137,194 1137,195 1136,195 1136,195 1135,195 1135,198 1134,198 1134,191 1133,191 1133,191 1132,191 1132,197 1131,197 1131,190 1130,190 1130,196 1129,196 1129,191 1128,191 1128,195 1127,195 1127,193 1126,193 1126,192 1125,192 1125,191 1124,191 1124,190 1123,190 1123,193 1122,193 1122,191 1121,191 1121,192 1120,192 1120,192 1119,192 1119,192 1118,192 1118,190 1117,190 1117,192 1116,192 1116,196 1115,196 1115,190 1114,190 1114,195 1113,195 1113,191 1112,191 1112,193 1111,193 1111,192 1110,192 1110,192 1109,192 1109,190 1108,190 1108,190 1107,190 1107,190 1106,190 1106,191 1105,191 1105,191 1104,191 1104,191 1103,191 1103,191 1102,191 1102,191 1101,191 1101,191 1100,191 1100,190 1099,190 1099,193 1098,193 1098,190 1097,190 1097,191 1096,191 1096,191 1095,191 1095,201 1094,201 1094,190 1093,190 1093,194 1092,194 1092,192 1091,192 1091,191 1090,191 1090,191 1089,191 1089,191 1088,191 1088,191 1087,191 1087,190 1086,190 1086,195 1085,195 1085,196 1084,196 1084,191 1083,191 1083,190 1082,190 1082,194 1081,194 1081,191 1080,191 1080,192 1079,192 1079,192 1078,192 1078,191 1077,191 1077,192 1076,192 1076,190 1075,190 1075,191 1074,191 1074,194 1073,194 1073,191 1072,191 1072,190 1071,190 1071,194 1070,194 1070,194 1069,194 1069,191 1068,191 1068,193 1067,193 1067,191 1066,191 1066,190 1065,190 1065,190 1064,190 1064,191 1063,191 1063,193 1062,193 1062,193 1061,193 1061,191 1060,191 1060,193 1059,193 1059,194 1058,194 1058,196 1057,196 1057,195 1056,195 1056,200 1055,200 1055,199 1054,199 1054,195 1053,195 1053,212 1052,212 1052,191 1051,191 1051,192 1050,192 1050,241 1049,241 1049,241 1048,241 1048,213 1047,213 1047,191 1046,191 1046,193 1045,193 1045,192 1044,192 1044,193 1043,193 1043,191 1042,191 1042,194 1041,194 1041,191 1040,191 1040,195 1039,195 1039,195 1038,195 1038,191 1037,191 1037,192 1036,192 1036,192 1035,192 1035,194 1034,194 1034,191 1033,191 1033,192 1032,192 1032,191 1031,191 1031,192 1030,192 1030,192 1029,192 1029,191 1028,191 1028,192 1027,192 1027,200 1026,200 1026,200 1025,200 1025,194 1024,194 1024,199 1023,199 1023,191 1022,191 1022,191 1021,191 1021,191 1020,191 1020,192 1019,192 1019,190 1018,190 1018,192 1017,192 1017,190 1016,190 1016,194 1015,194 1015,191 1014,191 1014,195 1013,195 1013,192 1012,192 1012,204 1011,204 1011,190 1010,190 1010,190 1009,190 1009,199 1008,199 1008,195 1007,195 1007,190 1006,190 1006,192 1005,192 1005,190 1004,190 1004,189 1003,189 1003,191 1002,191 1002,189 1001,189 1001,193 1000,193 1000,189 999,189 999,191 998,191 998,189 997,189 997,190 996,190 996,189 995,189 995,191 994,191 994,190 993,190 993,195 992,195 992,195 991,195 991,194 990,194 990,190 989,190 989,191 988,191 988,192 987,192 987,190 986,190 986,190 985,190 985,192 984,192 984,190 983,190 983,201 982,201 982,190 981,190 981,193 980,193 980,193 979,193 979,193 978,193 978,190 977,190 977,193 976,193 976,193 975,193 975,195 974,195 974,192 973,192 973,196 972,196 972,195 971,195 971,190 970,190 970,190 969,190 969,191 968,191 968,204 967,204 967,197 966,197 966,190 965,190 965,197 964,197 964,202 963,202 963,195 962,195 962,194 961,194 961,194 960,194 960,190 959,190 959,190 958,190 958,191 957,191 957,194 956,194 956,191 955,191 955,193 954,193 954,191 953,191 953,190 952,190 952,190 951,190 951,193 950,193 950,190 949,190 949,191 948,191 948,190 947,190 947,189 946,189 946,191 945,191 945,193 944,193 944,190 943,190 943,190 942,190 942,193 941,193 941,189 940,189 940,190 939,190 939,190 938,190 938,190 937,190 937,195 936,195 936,191 935,191 935,190 934,190 934,190 933,190 933,192 932,192 932,192 931,192 931,189 930,189 930,193 929,193 929,190 928,190 928,191 927,191 927,189 926,189 926,189 925,189 925,194 924,194 924,190 923,190 923,189 922,189 922,190 921,190 921,191 920,191 920,191 919,191 919,193 918,193 918,189 917,189 917,193 916,193 916,194 915,194 915,191 914,191 914,190 913,190 913,190 912,190 912,189 911,189 911,191 910,191 910,192 909,192 909,189 908,189 908,190 907,190 907,191 906,191 906,193 905,193 905,194 904,194 904,193 903,193 903,195 902,195 902,192 901,192 901,194 900,194 900,197 899,197 899,192 898,192 898,192 897,192 897,193 896,193 896,194 895,194 895,193 894,193 894,215 893,215 893,192 892,192 892,196 891,196 891,193 890,193 890,191 889,191 889,192 888,192 888,192 887,192 887,190 886,190 886,190 885,190 885,191 884,191 884,190 883,190 883,190 882,190 882,191 881,191 881,192 880,192 880,195 879,195 879,190 878,190 878,192 877,192 877,191 876,191 876,190 875,190 875,193 874,193 874,194 873,194 873,196 872,196 872,193 871,193 871,192 870,192 870,190 869,190 869,192 868,192 868,191 867,191 867,196 866,196 866,192 865,192 865,197 864,197 864,194 863,194 863,194 862,194 862,193 861,193 861,193 860,193 860,192 859,192 859,196 858,196 858,192 857,192 857,195 856,195 856,199 855,199 855,205 854,205 854,195 853,195 853,208 852,208 852,200 851,200 851,201 850,201 850,198 849,198 849,203 848,203 848,212 847,212 847,207 846,207 846,204 845,204 845,207 844,207 844,211 843,211 843,229 842,229 842,213 841,213 841,229 840,229 840,213 839,213 839,194 838,194 838,193 837,193 837,193 836,193 836,197 835,197 835,198 834,198 834,193 833,193 833,198 832,198 832,195 831,195 831,193 830,193 830,191 829,191 829,192 828,192 828,192 827,192 827,191 826,191 826,190 825,190 825,197 824,197 824,191 823,191 823,191 822,191 822,193 821,193 821,192 820,192 820,197 819,197 819,193 818,193 818,191 817,191 817,193 816,193 816,192 815,192 815,193 814,193 814,190 813,190 813,190 812,190 812,195 811,195 811,195 810,195 810,191 809,191 809,195 808,195 808,197 807,197 807,190 806,190 806,191 805,191 805,190 804,190 804,191 803,191 803,190 802,190 802,193 801,193 801,190 800,190 800,194 799,194 799,191 798,191 798,190 797,190 797,190 796,190 796,190 795,190 795,191 794,191 794,191 793,191 793,191 792,191 792,191 791,191 791,190 790,190 790,193 789,193 789,189 788,189 788,190 787,190 787,193 786,193 786,189 785,189 785,191 784,191 784,191 783,191 783,191 782,191 782,190 781,190 781,190 780,190 780,189 779,189 779,189 778,189 778,190 777,190 777,193 776,193 776,193 775,193 775,189 774,189 774,191 773,191 773,194 772,194 772,190 771,190 771,190 770,190 770,192 769,192 769,190 768,190 768,189 767,189 767,190 766,190 766,190 765,190 765,191 764,191 764,189 763,189 763,190 762,190 762,189 761,189 761,190 760,190 760,193 759,193 759,189 758,189 758,192 757,192 757,189 756,189 756,193 755,193 755,191 754,191 754,190 753,190 753,193 752,193 752,189 751,189 751,190 750,190 750,190 749,190 749,190 748,190 748,189 747,189 747,193 746,193 746,190 745,190 745,190 744,190 744,189 743,189 743,190 742,190 742,192 741,192 741,191 740,191 740,190 739,190 739,190 738,190 738,190 737,190 737,196 736,196 736,191 735,191 735,191 734,191 734,190 733,190 733,197 732,197 732,194 731,194 731,192 730,192 730,195 729,195 729,192 728,192 728,197 727,197 727,194 726,194 726,198 725,198 725,193 724,193 724,198 723,198 723,197 722,197 722,197 721,197 721,203 720,203 720,194 719,194 719,194 718,194 718,192 717,192 717,193 716,193 716,196 715,196 715,207 714,207 714,194 713,194 713,194 712,194 712,201 711,201 711,197 710,197 710,195 709,195 709,194 708,194 708,194 707,194 707,194 706,194 706,204 705,204 705,204 704,204 704,191 703,191 703,195 702,195 702,191 701,191 701,195 700,195 700,192 699,192 699,193 698,193 698,194 697,194 697,191 696,191 696,198 695,198 695,193 694,193 694,194 693,194 693,195 692,195 692,197 691,197 691,194 690,194 690,196 689,196 689,211 688,211 688,197 687,197 687,199 686,199 686,194 685,194 685,195 684,195 684,195 683,195"/><rect x="65.5" y="65.5" width="501" height="253" fill="none" stroke="#000" stroke-width="1"/>
<rect x="665.5" y="65.5" width="501" height="253" fill="none" stroke="#000" stroke-width="1"/>
<rect x="65.5" y="465.5" width="501" height="253" fill="none" stroke="#000" stroke-width="1"/>
<rect x="665.5" y="465.5" width="501" height="253" fill="none" stroke="#000" stroke-width="1"/>
<text x="314.5" y="39.7" font-size="15.94" text-anchor="middle" font-weight="bold" textLength="209.88" lengthAdjust="spacingAndGlyphs">GGB stock price time-series</text>
<text x="914.5" y="39.7" font-size="15.94" text-anchor="middle" font-weight="bold">GGB versus S&amp;P500 stock return time-series</text>
<text x="314.5" y="439.7" font-size="15.94" text-anchor="middle" font-weight="bold">GGB versus S&amp;P500 stock return distribution</text>
<text x="914.5" y="439.7" font-size="15.94" text-anchor="middle" font-weight="bold">GGB versus S&amp;P500 return frequency distribution</text>
<line x1="83.5" y1="318.5" x2="536.5" y2="318.5" stroke="#000" stroke-width="1"/>
<line x1="83.5" y1="318" x2="83.5" y2="327" stroke="#000" stroke-width="1"/>
<text x="83.5" y="348" font-size="13.9" text-anchor="middle" textLength="27.77" lengthAdjust="spacingAndGlyphs">2000</text>
<line x1="174.5" y1="318" x2="174.5" y2="327" stroke="#000" stroke-width="1"/>
<text x="174.5" y="348" font-size="13.9" text-anchor="middle" textLength="27.77" lengthAdjust="spacingAndGlyphs">2005</text>
<line x1="264.5" y1="318" x2="264.5" y2="327" stroke="#000" stroke-width="1"/>
<text x="264.5" y="348" font-size="13.9" text-anchor="middle" textLength="27.77" lengthAdjust="spacingAndGlyphs">2010</text>
<line x1="355.5" y1="318" x2="355.5" y2="327" stroke="#000" stroke-width="1"/>
<text x="355.5" y="348" font-size="13.9" text-anchor="middle" textLength="27.77" lengthAdjust="spacingAndGlyphs">2015</text>
<line x1="445.5" y1="318" x2="445.5" y2="327" stroke="#000" stroke-width="1"/>
<text x="445.5" y="348" font-size="13.9" text-anchor="middle" textLength="27.77" lengthAdjust="spacingAndGlyphs">2020</text>
<line x1="536.5" y1="318" x2="536.5" y2="327" stroke="#000" stroke-width="1"/>
<text x="536.5" y="348" font-size="13.9" text-anchor="middle" textLength="27.77" lengthAdjust="spacingAndGlyphs">2025</text>
<line x1="683.5" y1="318.5" x2="1136.5" y2="318.5" stroke="#000" stroke-width="1"/>
<line x1="683.5" y1="318" x2="683.5" y2="327" stroke="#000" stroke-width="1"/>
<text x="683.5" y="348" font-size="13.9" text-anchor="middle" textLength="27.77" lengthAdjust="spacingAndGlyphs">2000</text>
<line x1="774.5" y1="318" x2="774.5" y2="327" stroke="#000" stroke-width="1"/>
<text x="774.5" y="348" font-size="13.9" text-anchor="middle" textLength="27.77" lengthAdjust="spacingAndGlyphs">2005</text>
<line x1="864.5" y1="318" x2="864.5" y2="327" stroke="#000" stroke-width="1"/>
<text x="864.5" y="348" font-size="13.9" text-anchor="middle" textLength="27.77" lengthAdjust="spacingAndGlyphs">2010</text>
<line x1="955.5" y1="318" x2="955.5" y2="327" stroke="#000" stroke-width="1"/>
<text x="955.5" y="348" font-size="13.9" text-anchor="middle" textLength="27.77" lengthAdjust="spacingAndGlyphs">2015</text>
<line x1="1045.5" y1="318" x2="1045.5" y2="327" stroke="#000" stroke-width="1"/>
<text x="1045.5" y="348" font-size="13.9" text-anchor="middle" textLength="27.77" lengthAdjust="spacingAndGlyphs">2020</text>
<line x1="1136.5" y1="318" x2="1136.5" y2="327" stroke="#000" stroke-width="1"/>
<text x="1136.5" y="348" font-size="13.9" text-anchor="middle" textLength="27.77" lengthAdjust="spacingAndGlyphs">2025</text>
<line x1="65.5" y1="311.5" x2="65.5" y2="101.5" stroke="#000" stroke-width="1"/>
<line x1="57" y1="311.5" x2="66" y2="311.5" stroke="#000" stroke-width="1"/>
<text x="47" y="311.5" font-size="13.9" text-anchor="middle" textLength="7.39" lengthAdjust="spacingAndGlyphs" transform="rotate(-90 47 311.5)">0</text>
<line x1="57" y1="269.5" x2="66" y2="269.5" stroke="#000" stroke-width="1"/>
<text x="47" y="269.5" font-size="13.9" text-anchor="middle" textLength="7.39" lengthAdjust="spacingAndGlyphs" transform="rotate(-90 47 269.5)">2</text>
<line x1="57" y1="227.5" x2="66" y2="227.5" stroke="#000" stroke-width="1"/>
<text x="47" y="227.5" font-size="13.9" text-anchor="middle" textLength="7.39" lengthAdjust="spacingAndGlyphs" transform="rotate(-90 47 227.5)">4</text>
<line x1="57" y1="185.5" x2="66" y2="185.5" stroke="#000" stroke-width="1"/>
<text x="47" y="185.5" font-size="13.9" text-anchor="middle" textLength="7.39" lengthAdjust="spacingAndGlyphs" transform="rotate(-90 47 185.5)">6</text>
<line x1="57" y1="143.5" x2="66" y2="143.5" stroke="#000" stroke-width="1"/>
<text x="47" y="143.5" font-size="13.9" text-anchor="middle" textLength="7.39" lengthAdjust="spacingAndGlyphs" transform="rotate(-90 47 143.5)">8</text>
<line x1="57" y1="101.5" x2="66" y2="101.5" stroke="#000" stroke-width="1"/>
<text x="47" y="101.5" font-size="13.9" text-anchor="middle" textLength="14.77" lengthAdjust="spacingAndGlyphs" transform="rotate(-90 47 101.5)">10</text>
<line x1="657" y1="316.5" x2="666" y2="316.5" stroke="#000" stroke-width="1"/>
<text x="647" y="316.5" font-size="13.9" text-anchor="middle" textLength="22.88" lengthAdjust="spacingAndGlyphs" transform="rotate(-90 647 316.5)">-0.3</text>
<line x1="657" y1="272.5" x2="666" y2="272.5" stroke="#000" stroke-width="1"/>
<text x="647" y="272.5" font-size="13.9" text-anchor="middle" textLength="22.88" lengthAdjust="spacingAndGlyphs" transform="rotate(-90 647 272.5)">-0.2</text>
<line x1="657" y1="229.5" x2="666" y2="229.5" stroke="#000" stroke-width="1"/>
<text x="647" y="229.5" font-size="13.9" text-anchor="middle" textLength="22.88" lengthAdjust="spacingAndGlyphs" transform="rotate(-90 647 229.5)">-0.1</text>
<line x1="657" y1="185.5" x2="666" y2="185.5" stroke="#000" stroke-width="1"/>
<text x="647" y="185.5" font-size="13.9" text-anchor="middle" textLength="18.46" lengthAdjust="spacingAndGlyphs" transform="rotate(-90 647 185.5)">0.0</text>
<line x1="657" y1="142.5" x2="666" y2="142.5" stroke="#000" stroke-width="1"/>
<text x="647" y="142.5" font-size="13.9" text-anchor="middle" textLength="18.46" lengthAdjust="spacingAndGlyphs" transform="rotate(-90 647 142.5)">0.1</text>
<line x1="657" y1="98.5" x2="666" y2="98.5" stroke="#000" stroke-width="1"/>
<text x="647" y="98.5" font-size="13.9" text-anchor="middle" textLength="18.46" lengthAdjust="spacingAndGlyphs" transform="rotate(-90 647 98.5)">0.2</text>
<line x1="70.5" y1="718" x2="70.5" y2="727" stroke="#000" stroke-width="1"/>
<text x="70.5" y="748" font-size="13.9" text-anchor="middle" textLength="22.88" lengthAdjust="spacingAndGlyphs">-0.3</text>
<line x1="156.5" y1="718" x2="156.5" y2="727" stroke="#000" stroke-width="1"/>
<text x="156.5" y="748" font-size="13.9" text-anchor="middle" textLength="22.88" lengthAdjust="spacingAndGlyphs">-0.2</text>
<line x1="242.5" y1="718" x2="242.5" y2="727" stroke="#000" stroke-width="1"/>
<text x="242.5" y="748" font-size="13.9" text-anchor="middle" textLength="22.88" lengthAdjust="spacingAndGlyphs">-0.1</text>
<line x1="328.5" y1="718" x2="328.5" y2="727" stroke="#000" stroke-width="1"/>
<text x="328.5" y="748" font-size="13.9" text-anchor="middle" textLength="18.46" lengthAdjust="spacingAndGlyphs">0.0</text>
<line x1="414.5" y1="718" x2="414.5" y2="727" stroke="#000" stroke-width="1"/>
<text x="414.5" y="748" font-size="13.9" text-anchor="middle" textLength="18.46" lengthAdjust="spacingAndGlyphs">0.1</text>
<line x1="501.5" y1="718" x2="501.5" y2="727" stroke="#000" stroke-width="1"/>
<text x="501.5" y="748" font-size="13.9" text-anchor="middle" textLength="18.46" lengthAdjust="spacingAndGlyphs">0.2</text>
<line x1="70.5" y1="718.5" x2="501.5" y2="718.5" stroke="#000" stroke-width="1"/>
<line x1="57" y1="709.5" x2="66" y2="709.5" stroke="#000" stroke-width="1"/>
<text x="47" y="709.5" font-size="13.9" text-anchor="middle" textLength="7.39" lengthAdjust="spacingAndGlyphs" transform="rotate(-90 47 709.5)">0</text>
<line x1="57" y1="668.5" x2="66" y2="668.5" stroke="#000" stroke-width="1"/>
<text x="47" y="668.5" font-size="13.9" text-anchor="middle" textLength="14.77" lengthAdjust="spacingAndGlyphs" transform="rotate(-90 47 668.5)">10</text>
<line x1="57" y1="628.5" x2="66" y2="628.5" stroke="#000" stroke-width="1"/>
<text x="47" y="628.5" font-size="13.9" text-anchor="middle" textLength="14.77" lengthAdjust="spacingAndGlyphs" transform="rotate(-90 47 628.5)">20</text>
<line x1="57" y1="587.5" x2="66" y2="587.5" stroke="#000" stroke-width="1"/>
<text x="47" y="587.5" font-size="13.9" text-anchor="middle" textLength="14.77" lengthAdjust="spacingAndGlyphs" transform="rotate(-90 47 587.5)">30</text>
<line x1="57" y1="546.5" x2="66" y2="546.5" stroke="#000" stroke-width="1"/>
<text x="47" y="546.5" font-size="13.9" text-anchor="middle" textLength="14.77" lengthAdjust="spacingAndGlyphs" transform="rotate(-90 47 546.5)">40</text>
<line x1="57" y1="506.5" x2="66" y2="506.5" stroke="#000" stroke-width="1"/>
<text x="47" y="506.5" font-size="13.9" text-anchor="middle" textLength="14.77" lengthAdjust="spacingAndGlyphs" transform="rotate(-90 47 506.5)">50</text>
<line x1="57" y1="465.5" x2="66" y2="465.5" stroke="#000" stroke-width="1"/>
<text x="47" y="465.5" font-size="13.9" text-anchor="middle" textLength="14.77" lengthAdjust="spacingAndGlyphs" transform="rotate(-90 47 465.5)">60</text>
<line x1="657" y1="716.5" x2="666" y2="716.5" stroke="#000" stroke-width="1"/>
<line x1="657" y1="681.5" x2="666" y2="681.5" stroke="#000" stroke-width="1"/>
<line x1="657" y1="646.5" x2="666" y2="646.5" stroke="#000" stroke-width="1"/>
<line x1="657" y1="611.5" x2="666" y2="611.5" stroke="#000" stroke-width="1"/>
<line x1="657" y1="576.5" x2="666" y2="576.5" stroke="#000" stroke-width="1"/>
<line x1="657" y1="541.5" x2="666" y2="541.5" stroke="#000" stroke-width="1"/>
<line x1="657" y1="506.5" x2="666" y2="506.5" stroke="#000" stroke-width="1"/>
<line x1="657" y1="471.5" x2="666" y2="471.5" stroke="#000" stroke-width="1"/>
<text x="647" y="716.5" font-size="13.9" text-anchor="middle" textLength="7.02" lengthAdjust="spacingAndGlyphs" transform="rotate(-90 647 716.5)">0</text>
<text x="647" y="681.5" font-size="13.9" text-anchor="middle" textLength="21.05" lengthAdjust="spacingAndGlyphs" transform="rotate(-90 647 681.5)">500</text>
<text x="647" y="611.5" font-size="13.9" text-anchor="middle" textLength="28.07" lengthAdjust="spacingAndGlyphs" transform="rotate(-90 647 611.5)">1500</text>
<text x="647" y="541.5" font-size="13.9" text-anchor="middle" textLength="28.07" lengthAdjust="spacingAndGlyphs" transform="rotate(-90 647 541.5)">2500</text>
<text x="647" y="471.5" font-size="13.9" text-anchor="middle" textLength="28.07" lengthAdjust="spacingAndGlyphs" transform="rotate(-90 647 471.5)">3500</text>
<text x="615.5" y="593" font-size="13.9" text-anchor="middle" textLength="56.28" lengthAdjust="spacingAndGlyphs" transform="rotate(-90 615.5 593)">frequency</text>
<text x="914.5" y="779.5" font-size="13.9" text-anchor="middle" textLength="34.17" lengthAdjust="spacingAndGlyphs">return</text>
<polyline fill="none" stroke="#228B22" stroke-width="2" points="74,708.6 229.2,708.4 249.3,706.5 265.8,705.25 280.5,701.6 289.7,695.2 300.7,686 305.25,676.8 315.3,663.1 322.7,652.1 326,647 328.6,643 331.5,644.5 335.5,647.5 342.8,662.2 350,675 354.75,682.3 361.2,687.8 366,692.5 370,698.3 378,701.2 386.7,703.3 395,705.3 403.3,707 431.7,707.6 433,708.6 559,708.6"/>
<polyline fill="none" stroke="#FFA500" stroke-width="1.1" points="247.5,709 274,708.8 290,707 297,704.7 304.3,700.7 308,697 311.7,689.7 315.3,671.3 319.9,638.3 321.75,620 323.6,600 325.6,570 325.9,552 326.9,513 327.5,492 328.3,479 328.8,479 329.8,488 330.6,505 331.4,533 332.3,548 333.1,570 335.6,600 337.3,620 339.2,636.5 342.8,675 345.6,693.3 349,699 352,703.4 361.2,706.2 366.7,708.3 376,708.9 386.8,709"/>
<line x1="66" y1="709.5" x2="566" y2="709.5" stroke="#BEBEBE" stroke-width="1"/>
<rect x="65.5" y="465.5" width="195" height="47.5" fill="none" stroke="#000" stroke-width="1"/>
<line x1="77" y1="481" x2="102" y2="481" stroke="#228B22" stroke-width="2.2"/>
<line x1="77" y1="497.5" x2="102" y2="497.5" stroke="#FFA500" stroke-width="1.1"/>
<text x="113.4" y="486.6" font-size="13.9" text-anchor="start" textLength="133.5" lengthAdjust="spacingAndGlyphs">GGB return distribution</text>
<text x="113.4" y="502.5" font-size="13.9" text-anchor="start" textLength="140.91" lengthAdjust="spacingAndGlyphs">GSPC return distribution</text>
<g clip-path="url(#c4)"><line x1="683.86" y1="716.5" x2="689.08" y2="716.5" stroke="#000" stroke-width="1.6"/><line x1="689.08" y1="716.5" x2="694.29" y2="716.5" stroke="#000" stroke-width="1.6"/><line x1="699.50" y1="716.5" x2="704.72" y2="716.5" stroke="#000" stroke-width="1.6"/><line x1="704.72" y1="716.5" x2="709.93" y2="716.5" stroke="#000" stroke-width="1.6"/><line x1="715.15" y1="716.5" x2="720.36" y2="716.5" stroke="#000" stroke-width="1.6"/><line x1="720.36" y1="716.5" x2="725.57" y2="716.5" stroke="#000" stroke-width="1.6"/><line x1="730.79" y1="716.5" x2="736.00" y2="716.5" stroke="#000" stroke-width="1.6"/><line x1="736.00" y1="716.5" x2="741.22" y2="716.5" stroke="#000" stroke-width="1.6"/><line x1="746.43" y1="716.5" x2="751.64" y2="716.5" stroke="#000" stroke-width="1.6"/><line x1="751.64" y1="716.5" x2="756.86" y2="716.5" stroke="#000" stroke-width="1.6"/><rect x="762.07" y="715.96" width="5.21" height="0.84" fill="#0000FF" stroke="#000" stroke-width="1.1"/><line x1="767.29" y1="716.5" x2="772.50" y2="716.5" stroke="#000" stroke-width="1.6"/><line x1="777.71" y1="716.5" x2="782.93" y2="716.5" stroke="#000" stroke-width="1.6"/><line x1="782.93" y1="716.5" x2="788.14" y2="716.5" stroke="#000" stroke-width="1.6"/><rect x="793.36" y="715.75" width="5.21" height="1.05" fill="#0000FF" stroke="#000" stroke-width="1.1"/><line x1="798.57" y1="716.5" x2="803.78" y2="716.5" stroke="#000" stroke-width="1.6"/><rect x="809.00" y="715.75" width="5.21" height="1.05" fill="#0000FF" stroke="#000" stroke-width="1.1"/><line x1="814.21" y1="716.5" x2="819.43" y2="716.5" stroke="#000" stroke-width="1.6"/><rect x="824.64" y="715.54" width="5.21" height="1.26" fill="#0000FF" stroke="#000" stroke-width="1.1"/><line x1="829.85" y1="716.5" x2="835.07" y2="716.5" stroke="#000" stroke-width="1.6"/><rect x="840.28" y="713.23" width="5.21" height="3.57" fill="#0000FF" stroke="#000" stroke-width="1.1"/><rect x="845.50" y="715.40" width="5.21" height="1.40" fill="#FFFF00" stroke="#000" stroke-width="1.1"/><rect x="855.92" y="712.24" width="5.21" height="4.56" fill="#0000FF" stroke="#000" stroke-width="1.1"/><rect x="861.14" y="715.26" width="5.21" height="1.54" fill="#FFFF00" stroke="#000" stroke-width="1.1"/><rect x="871.57" y="705.24" width="5.21" height="11.56" fill="#0000FF" stroke="#000" stroke-width="1.1"/><line x1="876.78" y1="716.5" x2="881.99" y2="716.5" stroke="#000" stroke-width="1.6"/><rect x="887.21" y="684.42" width="5.21" height="32.38" fill="#0000FF" stroke="#000" stroke-width="1.1"/><rect x="892.42" y="712.10" width="5.21" height="4.70" fill="#FFFF00" stroke="#000" stroke-width="1.1"/><rect x="902.85" y="643.35" width="5.21" height="73.45" fill="#0000FF" stroke="#000" stroke-width="1.1"/><rect x="908.06" y="685.40" width="5.21" height="31.40" fill="#FFFF00" stroke="#000" stroke-width="1.1"/><rect x="918.49" y="594.28" width="5.21" height="122.52" fill="#0000FF" stroke="#000" stroke-width="1.1"/><rect x="923.71" y="465.30" width="5.21" height="251.50" fill="#FFFF00" stroke="#000" stroke-width="1.1"/><rect x="934.13" y="608.30" width="5.21" height="108.50" fill="#0000FF" stroke="#000" stroke-width="1.1"/><rect x="939.35" y="566.11" width="5.21" height="150.69" fill="#FFFF00" stroke="#000" stroke-width="1.1"/><rect x="949.78" y="661.29" width="5.21" height="55.51" fill="#0000FF" stroke="#000" stroke-width="1.1"/><rect x="954.99" y="704.39" width="5.21" height="12.41" fill="#FFFF00" stroke="#000" stroke-width="1.1"/><rect x="965.42" y="691.08" width="5.21" height="25.72" fill="#0000FF" stroke="#000" stroke-width="1.1"/><rect x="970.63" y="714.21" width="5.21" height="2.59" fill="#FFFF00" stroke="#000" stroke-width="1.1"/><rect x="981.06" y="705.24" width="5.21" height="11.56" fill="#0000FF" stroke="#000" stroke-width="1.1"/><rect x="986.27" y="716.38" width="5.21" height="0.42" fill="#FFFF00" stroke="#000" stroke-width="1.1"/><rect x="996.70" y="712.10" width="5.21" height="4.70" fill="#0000FF" stroke="#000" stroke-width="1.1"/><rect x="1001.92" y="716.45" width="5.21" height="0.35" fill="#FFFF00" stroke="#000" stroke-width="1.1"/><rect x="1012.34" y="714.14" width="5.21" height="2.66" fill="#0000FF" stroke="#000" stroke-width="1.1"/><line x1="1017.56" y1="716.5" x2="1022.77" y2="716.5" stroke="#000" stroke-width="1.6"/><rect x="1027.99" y="715.05" width="5.21" height="1.75" fill="#0000FF" stroke="#000" stroke-width="1.1"/><line x1="1033.20" y1="716.5" x2="1038.41" y2="716.5" stroke="#000" stroke-width="1.6"/><rect x="1043.63" y="715.40" width="5.21" height="1.40" fill="#0000FF" stroke="#000" stroke-width="1.1"/><line x1="1048.84" y1="716.5" x2="1054.06" y2="716.5" stroke="#000" stroke-width="1.6"/><rect x="1059.27" y="715.75" width="5.21" height="1.05" fill="#0000FF" stroke="#000" stroke-width="1.1"/><line x1="1064.48" y1="716.5" x2="1069.70" y2="716.5" stroke="#000" stroke-width="1.6"/><line x1="1074.91" y1="716.5" x2="1080.13" y2="716.5" stroke="#000" stroke-width="1.6"/><line x1="1080.13" y1="716.5" x2="1085.34" y2="716.5" stroke="#000" stroke-width="1.6"/><line x1="1090.55" y1="716.5" x2="1095.77" y2="716.5" stroke="#000" stroke-width="1.6"/><line x1="1095.77" y1="716.5" x2="1100.98" y2="716.5" stroke="#000" stroke-width="1.6"/><line x1="1106.20" y1="716.5" x2="1111.41" y2="716.5" stroke="#000" stroke-width="1.6"/><line x1="1111.41" y1="716.5" x2="1116.62" y2="716.5" stroke="#000" stroke-width="1.6"/><line x1="1121.84" y1="716.5" x2="1127.05" y2="716.5" stroke="#000" stroke-width="1.6"/><line x1="1127.05" y1="716.5" x2="1132.27" y2="716.5" stroke="#000" stroke-width="1.6"/><line x1="1137.48" y1="716.5" x2="1142.69" y2="716.5" stroke="#000" stroke-width="1.6"/><line x1="1142.69" y1="716.5" x2="1147.91" y2="716.5" stroke="#000" stroke-width="1.6"/></g>
<text x="689.08" y="747.5" font-size="13.9" text-anchor="middle" textLength="84.93" lengthAdjust="spacingAndGlyphs">[-0.284,-0.266)</text>
<text x="797.57" y="747.5" font-size="13.9" text-anchor="middle" textLength="77.73" lengthAdjust="spacingAndGlyphs">[-0.158,-0.14)</text>
<text x="908.06" y="747.5" font-size="13.9" text-anchor="middle" textLength="99.34" lengthAdjust="spacingAndGlyphs">[-0.0328,-0.0148)</text>
<text x="1016.56" y="747.5" font-size="13.9" text-anchor="middle" textLength="83.68" lengthAdjust="spacingAndGlyphs">[0.0929,0.111)</text>
<text x="1111.41" y="747.5" font-size="13.9" text-anchor="middle" textLength="76.31" lengthAdjust="spacingAndGlyphs">[0.201,0.219)</text>
<rect x="993.5" y="465.5" width="173" height="47.5" fill="none" stroke="#000" stroke-width="1"/>
<rect x="1005.5" y="477.5" width="9" height="8" fill="#0000FF" stroke="#000" stroke-width="1"/>
<rect x="1005.5" y="493.5" width="9" height="8" fill="#FFFF00" stroke="#000" stroke-width="1"/>
<text x="1026.5" y="486.6" font-size="13.9" text-anchor="start" textLength="126.01" lengthAdjust="spacingAndGlyphs">GGB return frequency</text>
<text x="1026.5" y="503" font-size="13.9" text-anchor="start" textLength="133.89" lengthAdjust="spacingAndGlyphs">GSPC return frequency</text>
<rect x="1002.5" y="65.5" width="164" height="47.5" fill="none" stroke="#000" stroke-width="1"/>
<line x1="1014" y1="81" x2="1039" y2="81" stroke="#0000FF" stroke-width="2.2"/>
<line x1="1014" y1="97.5" x2="1039" y2="97.5" stroke="#FFFF00" stroke-width="1.1"/>
<text x="1050.4" y="87" font-size="13.9" text-anchor="start" textLength="102.17" lengthAdjust="spacingAndGlyphs">GGB stock return</text>
<text x="1050.4" y="102.7" font-size="13.9" text-anchor="start" textLength="110.15" lengthAdjust="spacingAndGlyphs">GSPC stock return</text></svg></body></html>
